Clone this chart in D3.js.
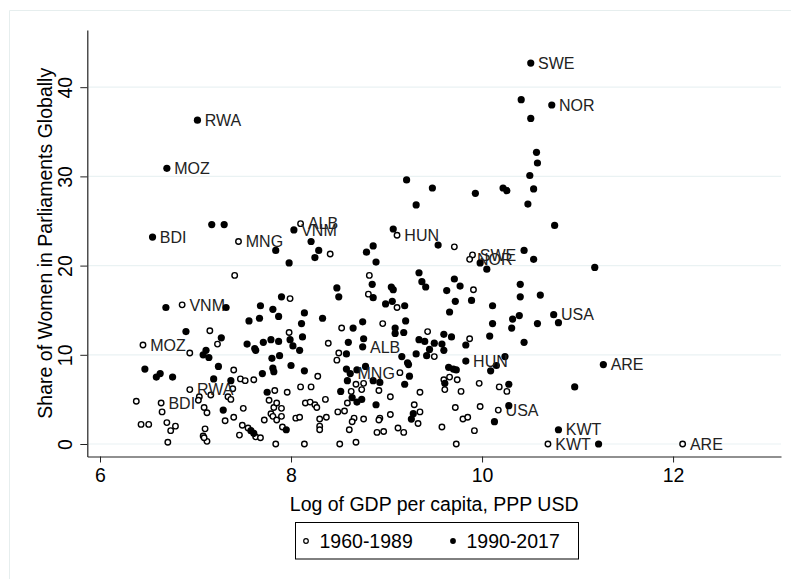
<!DOCTYPE html>
<html>
<head>
<meta charset="utf-8">
<script src="https://cdn.jsdelivr.net/npm/d3@7"></script>
<style>
  body { margin: 0; background: #fff; }
  svg { font-family: "Liberation Sans", Arial, Helvetica, sans-serif; }
</style>
</head>
<body>
<script>
// [log GDP per capita, share of women in parliament, optional country label]
const early = [
  [8.10, 24.7, "ALB"], [8.41, 21.3], [7.45, 22.7, "MNG"], [7.41, 18.9], [9.11, 23.4, "HUN"],
  [8.82, 18.9], [7.99, 16.3], [8.81, 16.8], [9.71, 22.1], [9.90, 21.2, "SWE"], [9.87, 20.7, "NOR"],
  [9.91, 17.3], [9.11, 15.3], [8.96, 13.5], [9.43, 12.6], [9.50, 9.8], [9.87, 11.8], [9.14, 8.0],
  [9.60, 7.2], [9.66, 7.5], [9.74, 7.2], [9.61, 6.1], [9.78, 5.9], [9.97, 6.8], [10.18, 6.4],
  [10.26, 5.9], [9.35, 5.8], [9.04, 5.3], [9.29, 4.4], [9.35, 3.6], [9.33, 2.3], [9.04, 3.3],
  [8.93, 2.9], [8.97, 1.4], [9.12, 1.8], [9.18, 1.3], [9.58, 1.9], [9.72, 4.1], [9.80, 2.8],
  [9.85, 3.0], [9.98, 4.2], [9.92, 1.5], [10.17, 3.8, "USA"], [10.69, 0, "KWT"], [12.10, 0, "ARE"],
  [9.73, 0], [8.53, 13.0], [8.39, 11.3], [8.50, 10.2], [8.48, 9.4], [8.68, 6.7], [8.76, 6.8],
  [8.74, 6.1], [8.63, 5.9], [8.92, 6.0], [8.36, 5.0], [8.59, 4.6], [8.49, 3.6], [8.56, 3.7],
  [8.66, 2.9], [8.76, 2.8], [8.64, 2.5], [8.92, 2.7], [8.37, 3.0], [8.30, 2.8], [8.30, 2.0],
  [8.61, 1.6], [8.90, 1.3], [8.51, 0], [8.68, 0.2], [6.86, 15.6, "VNM"], [7.15, 12.7], [7.23, 11.2],
  [7.98, 12.5], [6.45, 11.1, "MOZ"], [6.94, 10.2], [7.40, 8.3], [7.47, 7.3], [7.52, 7.1], [7.61, 7.2],
  [7.39, 6.2], [7.83, 6.0], [7.96, 5.8], [8.10, 6.4], [8.21, 6.4], [8.28, 7.6], [8.14, 0], [7.84, 0],
  [6.71, 0.2], [6.94, 6.1, "RWA"], [7.04, 5.3], [7.16, 5.5], [7.34, 5.3], [7.37, 5.0], [7.09, 4.1],
  [7.12, 3.5], [7.03, 4.9], [6.38, 4.8], [6.64, 4.6, "BDI"], [6.65, 3.6], [6.43, 2.2], [6.51, 2.2],
  [6.70, 2.4], [6.74, 1.5], [6.79, 2.0], [7.10, 1.7], [7.08, 0.9], [7.12, 0.3], [7.09, 0.7],
  [7.31, 2.6], [7.40, 3.0], [7.50, 4.0], [7.49, 2.1], [7.55, 1.8], [7.46, 1.0], [7.63, 0.8],
  [7.68, 0.7], [7.72, 2.7], [7.77, 4.9], [7.82, 4.1], [7.85, 4.6], [7.90, 4.0], [7.79, 3.4],
  [7.81, 3.1], [7.85, 2.7], [7.90, 3.1], [7.91, 1.9], [8.05, 2.9], [8.09, 3.0], [8.15, 4.6],
  [8.20, 4.7], [8.25, 4.4], [8.27, 4.1], [8.30, 1.6]
];

const late = [
  [7.02, 36.3, "RWA"], [6.70, 30.9, "MOZ"], [6.55, 23.2, "BDI"], [7.17, 24.6], [7.30, 24.6],
  [8.03, 24.0, "VNM"], [8.21, 22.7], [8.29, 21.7], [8.25, 20.9], [7.84, 21.7], [7.98, 20.3],
  [8.79, 21.5], [8.86, 22.2], [8.89, 20.4], [9.07, 24.1], [8.85, 17.9], [8.48, 17.5], [8.50, 16.5],
  [7.90, 16.5], [8.86, 16.4], [9.05, 17.6], [9.07, 17.3], [10.51, 42.7, "SWE"], [10.41, 38.6],
  [10.73, 38.0, "NOR"], [10.51, 36.5], [10.57, 32.7], [10.58, 31.5], [10.50, 30.1], [10.54, 28.6],
  [10.48, 26.9], [9.21, 29.6], [9.48, 28.7], [9.31, 26.8], [9.93, 28.1], [10.22, 28.7], [10.26, 28.4],
  [10.76, 24.5], [9.54, 22.3], [9.98, 20.3], [10.05, 19.6], [10.44, 21.7], [10.54, 20.7], [11.18, 19.8],
  [9.34, 19.2], [9.37, 18.2], [9.41, 17.6], [9.71, 18.5], [9.77, 17.7], [9.63, 17.2], [10.40, 17.9],
  [10.40, 16.5], [10.61, 16.7], [10.32, 14.0], [10.39, 14.4], [10.31, 13.0], [10.58, 13.5],
  [10.75, 14.5, "USA"], [10.80, 13.6], [9.72, 16.0], [9.89, 16.1], [8.99, 15.7], [9.06, 16.0],
  [9.19, 15.5], [10.11, 15.5], [9.66, 14.8], [10.11, 13.5], [9.20, 13.8], [9.09, 13.0], [9.09, 12.4],
  [9.18, 12.5], [9.60, 12.3], [9.68, 12.0], [9.34, 11.7], [9.40, 11.5], [9.50, 11.3], [9.58, 11.2],
  [9.60, 10.5], [9.45, 10.6], [9.42, 9.9], [9.31, 10.1], [9.83, 11.1], [10.08, 12.1], [10.44, 11.4],
  [8.75, 10.9, "ALB"], [9.16, 9.8], [9.22, 9.1], [9.23, 8.9], [9.83, 9.3, "HUN"], [10.24, 9.8],
  [10.15, 8.8], [10.09, 8.2], [9.65, 8.6], [9.70, 8.4], [9.73, 8.3], [11.27, 8.9, "ARE"], [9.24, 7.6],
  [8.93, 6.9], [9.19, 6.7], [9.61, 6.8], [10.28, 6.7], [10.97, 6.4], [9.28, 3.4], [9.26, 2.8],
  [10.13, 2.5], [10.28, 4.3], [10.80, 1.6, "KWT"], [11.22, 0], [8.33, 14.1], [8.65, 13.0], [8.75, 13.7],
  [8.76, 11.8], [8.60, 11.4], [8.58, 10.1], [8.58, 8.4], [8.62, 7.9, "MNG"], [8.69, 8.3], [8.78, 8.7],
  [8.59, 7.1], [8.86, 7.1], [8.52, 5.9], [8.64, 5.2], [8.69, 4.7], [8.74, 5.0], [8.89, 4.4],
  [6.69, 15.3], [7.32, 15.3], [7.68, 15.5], [7.81, 15.1], [7.87, 14.3], [7.67, 14.1], [7.56, 13.8],
  [8.14, 14.7], [8.11, 13.5], [6.90, 12.6], [7.27, 11.9], [8.12, 12.0], [7.54, 11.2], [7.71, 11.4],
  [7.79, 11.7], [7.87, 11.5], [7.99, 11.7], [8.02, 11.0], [7.62, 10.7], [7.63, 10.5], [8.09, 10.5],
  [7.08, 10.0], [7.11, 10.5], [7.14, 9.7], [7.24, 8.7], [7.80, 9.6], [7.88, 9.9], [8.00, 8.8],
  [7.81, 8.5], [7.82, 8.1], [7.70, 7.9], [8.14, 8.2], [7.19, 7.3], [7.37, 7.1], [7.75, 5.8],
  [7.29, 3.8], [7.58, 1.5], [7.61, 1.2], [7.95, 1.6], [6.47, 8.4], [6.59, 7.5], [6.63, 7.9], [6.76, 7.5]
];

const xTicks = [6, 8, 10, 12];
const yTicks = [0, 10, 20, 30, 40];
const seriesNames = ["1960-1989", "1990-2017"];

const width = 791, height = 579;
const plot = { left: 87.3, right: 781, top: 30, bottom: 456.5 };

const svg = d3.select("body").append("svg")
    .attr("width", width)
    .attr("height", height);

// faint outer frame of the graph region
svg.append("path")
    .attr("d", `M9.5,${height}V10.5H${width}`)
    .attr("fill", "none")
    .attr("stroke", "#e6eeee")
    .attr("stroke-width", 1);

const x = d3.scaleLinear().domain([5.867, 13.13]).range([plot.left, plot.right]);
const y = d3.scaleLinear().domain([-1.4, 46.41]).range([plot.bottom, plot.top]);

// gridlines
svg.append("g")
    .selectAll("line")
    .data(yTicks)
    .join("line")
    .attr("x1", plot.left)
    .attr("x2", plot.right)
    .attr("y1", d => y(d))
    .attr("y2", d => y(d))
    .attr("stroke", "#eaf2f3")
    .attr("stroke-width", 1.2);

// x axis
const xAxis = svg.append("g")
    .attr("transform", `translate(0,${plot.bottom})`)
    .call(d3.axisBottom(x).tickValues(xTicks).tickSize(6).tickPadding(5).tickSizeOuter(0));
xAxis.select(".domain").attr("stroke", "#222").attr("stroke-width", 1.2);
xAxis.selectAll(".tick line").attr("stroke", "#222");
xAxis.selectAll(".tick text")
    .attr("font-size", 19.5)
    .attr("fill", "#000")
    .attr("font-family", null)
    .attr("dy", "0.72em");

// y axis, labels turned vertical
const yAxis = svg.append("g")
    .attr("transform", `translate(${plot.left},0)`)
    .call(d3.axisLeft(y).tickValues(yTicks).tickSize(7).tickSizeOuter(0));
yAxis.select(".domain").attr("stroke", "#222").attr("stroke-width", 1.2);
yAxis.selectAll(".tick line").attr("stroke", "#222");
yAxis.selectAll(".tick text")
    .attr("font-size", 19.5)
    .attr("fill", "#000")
    .attr("font-family", null)
    .attr("x", null)
    .attr("dy", null)
    .attr("text-anchor", "middle")
    .attr("transform", "translate(-15.5,0) rotate(-90)");

// axis titles
svg.append("text")
    .attr("x", (plot.left + plot.right) / 2)
    .attr("y", 510.7)
    .attr("text-anchor", "middle")
    .attr("font-size", 19.5)
    .text("Log of GDP per capita, PPP USD");

svg.append("text")
    .attr("transform", `translate(52,${(plot.top + plot.bottom) / 2}) rotate(-90)`)
    .attr("text-anchor", "middle")
    .attr("font-size", 19.5)
    .text("Share of Women in Parliaments Globally");

// one scatter layer with its country labels
function drawSeries(rows, filled) {
    const g = svg.append("g");
    g.selectAll("circle")
        .data(rows)
        .join("circle")
        .attr("cx", d => x(d[0]))
        .attr("cy", d => y(d[1]))
        .attr("r", filled ? 3.6 : 2.75)
        .attr("fill", filled ? "#000" : "#fff")
        .attr("stroke", "#000")
        .attr("stroke-width", filled ? 0 : 1.4);
    g.selectAll("text")
        .data(rows.filter(d => d[2]))
        .join("text")
        .attr("x", d => x(d[0]) + 7.3)
        .attr("y", d => y(d[1]))
        .attr("dy", "0.36em")
        .attr("font-size", 16)
        .attr("fill", "#222")
        .text(d => d[2]);
}

drawSeries(early, false);
drawSeries(late, true);

// legend
const legend = svg.append("g");
legend.append("rect")
    .attr("x", 295.5)
    .attr("y", 522.5)
    .attr("width", 283)
    .attr("height", 36.5)
    .attr("fill", "#fff")
    .attr("stroke", "#000")
    .attr("stroke-width", 1);
const legendX = [306, 453];
seriesNames.forEach((name, i) => {
    legend.append("circle")
        .attr("cx", legendX[i])
        .attr("cy", 541)
        .attr("r", i === 0 ? 2.3 : 2.9)
        .attr("fill", i === 0 ? "#fff" : "#000")
        .attr("stroke", "#000")
        .attr("stroke-width", i === 0 ? 1.2 : 0);
    legend.append("text")
        .attr("x", legendX[i] + 13.5)
        .attr("y", 547.7)
        .attr("font-size", 19.5)
        .text(name);
});
</script>
</body>
</html>
